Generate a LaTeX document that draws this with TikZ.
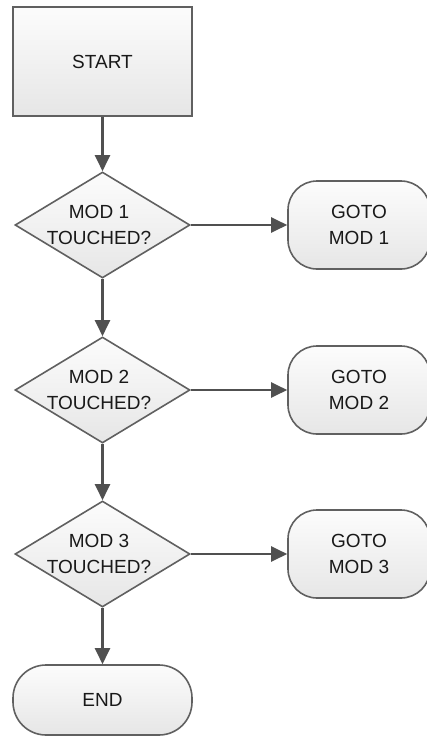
\documentclass[tikz,border=0pt]{standalone}
\usepackage{fontspec}
\setmainfont{Liberation Sans}
\usetikzlibrary{shapes.geometric,arrows.meta}

\definecolor{edgegray}{RGB}{96,96,96}
\definecolor{arrowgray}{RGB}{80,80,80}
\definecolor{fillhi}{RGB}{252,252,252}
\definecolor{filllo}{RGB}{230,230,230}
\definecolor{inkgray}{RGB}{25,25,25}

\tikzset{
  shapebase/.style={draw=edgegray, line width=1.6pt,
    top color=fillhi, bottom color=filllo, inner sep=0pt,
    text=inkgray, align=center,
    font=\fontsize{19}{26}\selectfont},
  procbox/.style={shapebase, rectangle, minimum width=179pt, minimum height=109pt},
  decision/.style={shapebase, diamond, minimum width=175pt, minimum height=106pt},
  jumpbox/.style={shapebase, rectangle, rounded corners=29pt,
    minimum width=142pt, minimum height=88pt},
  endbox/.style={shapebase, rectangle, rounded corners=33pt,
    minimum width=179pt, minimum height=70pt},
  flow/.style={draw=arrowgray, line width=2.2pt,
    -{Triangle[length=16pt,width=15pt]}, fill=arrowgray},
}

% zero-width line, nudged a little to the left of the diamond centre
\newcommand{\narrowline}[1]{\makebox[0pt]{#1\hspace{7pt}}}

\begin{document}
\begin{tikzpicture}[x=1pt, y=-1pt]
  \useasboundingbox (0,0) rectangle (427,736);
  \clip (0,0) rectangle (427,736);

  % main column
  \node[procbox] (start) at (102.5,61.5) {START};
  \node[decision] (d1) at (102.5,225) {\narrowline{MOD 1}\\\narrowline{TOUCHED?}};
  \node[decision] (d2) at (102.5,390) {\narrowline{MOD 2}\\\narrowline{TOUCHED?}};
  \node[decision] (d3) at (102.5,554) {\narrowline{MOD 3}\\\narrowline{TOUCHED?}};
  \node[endbox] (stop) at (102.5,700) {END};

  % jump targets
  \node[jumpbox] (g1) at (359,225) {GOTO\\MOD 1};
  \node[jumpbox] (g2) at (359,390) {GOTO\\MOD 2};
  \node[jumpbox] (g3) at (359,554) {GOTO\\MOD 3};

  % connectors
  \draw[flow] (start) -- (d1);
  \draw[flow] (d1) -- (d2);
  \draw[flow] (d2) -- (d3);
  \draw[flow] (d3) -- (stop);
  \draw[flow] (d1) -- (g1);
  \draw[flow] (d2) -- (g2);
  \draw[flow] (d3) -- (g3);
\end{tikzpicture}
\end{document}
